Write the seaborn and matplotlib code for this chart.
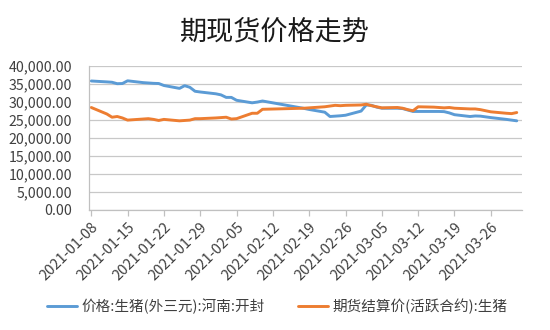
import matplotlib
matplotlib.use("Agg")
import matplotlib.pyplot as plt
import matplotlib.dates as mdates
from matplotlib.ticker import FuncFormatter
import seaborn as sns
import pandas as pd

sns.set_theme(style="white")
plt.rcParams['font.family'] = ['Noto Sans CJK SC', 'DejaVu Sans']

# Trading days (Spring Festival break 02-11 .. 02-17 has no quotes)
dates = [
    "2021-01-08", "2021-01-11", "2021-01-12", "2021-01-13", "2021-01-14", "2021-01-15",
    "2021-01-18", "2021-01-19", "2021-01-20", "2021-01-21", "2021-01-22",
    "2021-01-25", "2021-01-26", "2021-01-27", "2021-01-28", "2021-01-29",
    "2021-02-01", "2021-02-02", "2021-02-03", "2021-02-04", "2021-02-05",
    "2021-02-08", "2021-02-09", "2021-02-10",
    "2021-02-18", "2021-02-19",
    "2021-02-22", "2021-02-23", "2021-02-24", "2021-02-25", "2021-02-26",
    "2021-03-01", "2021-03-02", "2021-03-03", "2021-03-04", "2021-03-05",
    "2021-03-08", "2021-03-09", "2021-03-10", "2021-03-11", "2021-03-12",
    "2021-03-15", "2021-03-16", "2021-03-17", "2021-03-18", "2021-03-19",
    "2021-03-22", "2021-03-23", "2021-03-24", "2021-03-25", "2021-03-26",
    "2021-03-29", "2021-03-30", "2021-03-31",
]

spot_name = "价格:生猪(外三元):河南:开封"
spot = [
    35750, 35500, 35400, 35000, 35050, 35800,
    35300, 35200, 35100, 35050, 34500,
    33700, 34450, 34000, 32900, 32700,
    32200, 31900, 31200, 31200, 30400,
    29700, 29900, 30200,
    28150, 27850,
    27100, 25900, 26000, 26100, 26250,
    27400, 29100, 29000, 28500, 28200,
    28200, 28100, 27700, 27300, 27300,
    27300, 27300, 27250, 26900, 26400,
    25900, 26050, 26000, 25800, 25600,
    25100, 24900, 24700,
]

futures_name = "期货结算价(活跃合约):生猪"
futures = [
    28400, 26600, 25700, 25900, 25500, 24900,
    25200, 25300, 25100, 24800, 25100,
    24700, 24800, 24900, 25300, 25300,
    25500, 25600, 25700, 25200, 25300,
    26800, 26800, 27900,
    28200, 28300,
    28600, 28800, 29000, 28900, 29000,
    29100, 29300, 28900, 28600, 28300,
    28400, 28200, 27800, 27500, 28600,
    28500, 28400, 28300, 28400, 28200,
    28000, 28000, 27800, 27500, 27200,
    26800, 26700, 27000,
]

tick_dates = [
    "2021-01-08", "2021-01-15", "2021-01-22", "2021-01-29", "2021-02-05", "2021-02-12",
    "2021-02-19", "2021-02-26", "2021-03-05", "2021-03-12", "2021-03-19", "2021-03-26",
]

df = pd.DataFrame({
    "date": pd.to_datetime(dates * 2),
    "value": spot + futures,
    "series": [spot_name] * len(dates) + [futures_name] * len(dates),
})

fig = plt.figure(figsize=(5.5, 3.3), dpi=100)
ax = fig.add_axes([0.162, 0.364, 0.787, 0.437])

sns.lineplot(
    data=df, x="date", y="value", hue="series",
    palette=["#5B9BD5", "#ED7D31"], linewidth=2.1, ax=ax,
)

ax.set_ylim(0, 40000)
ax.set_yticks(range(0, 40001, 5000))
ax.yaxis.set_major_formatter(FuncFormatter(lambda v, p: f"{v:,.2f}"))
ax.set_xlim(pd.Timestamp("2021-01-07 14:00"), pd.Timestamp("2021-04-01"))
ax.set_xticks(pd.to_datetime(tick_dates))
ax.xaxis.set_major_formatter(mdates.DateFormatter("%Y-%m-%d"))
ax.set_xlabel("")
ax.set_ylabel("")

ax.grid(axis="y", color="#C8C8C8", linewidth=0.9)
ax.set_axisbelow(True)
for side in ("top", "right"):
    ax.spines[side].set_visible(False)
for side in ("left", "bottom"):
    ax.spines[side].set_color("#C0C0C0")
    ax.spines[side].set_linewidth(0.9)

ax.tick_params(axis="y", length=0, labelsize=10.2, colors="#404040", pad=12)
ax.tick_params(axis="x", length=4, width=0.9, color="#C0C0C0", labelsize=10.5,
               colors="#404040", direction="out", bottom=True, pad=3)
plt.setp(ax.get_xticklabels(), rotation=45, ha="right", va="top", rotation_mode="anchor")

leg = ax.legend(
    loc="upper center", bbox_to_anchor=(0.434, -0.525), ncol=2, frameon=False,
    fontsize=10.5, handlelength=2.1, columnspacing=2.3, handletextpad=0.25,
)
for t in leg.get_texts():
    t.set_color("#404040")

fig.text(0.5, 0.903, "期现货价格走势", ha="center", va="center", fontsize=19.5,
         color="#1a1a1a", fontweight="medium")

fig.savefig("out.png", dpi=100, facecolor="white")
